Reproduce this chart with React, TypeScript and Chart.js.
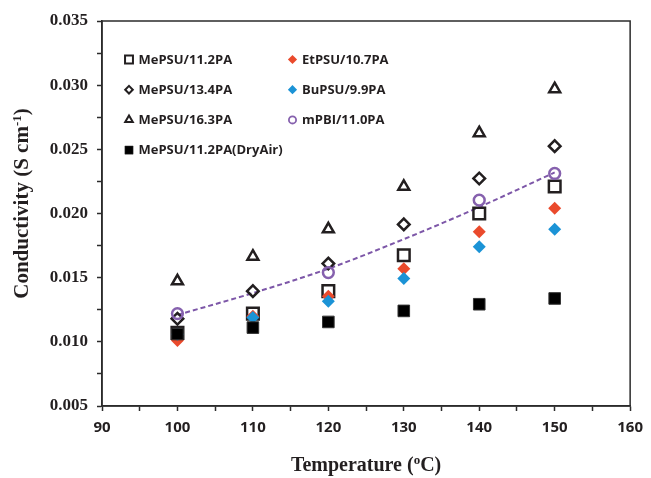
import React, { useEffect, useRef } from 'react';
import { Chart, registerables } from 'chart.js';

Chart.register(...registerables);

// ---- data ----
const temperatures = [100, 110, 120, 130, 140, 150];
const mepsu112 = [0.0107, 0.0122, 0.01395, 0.01675, 0.0200, 0.0221];
const etpsu107 = [0.0101, 0.0120, 0.01355, 0.0157, 0.01857, 0.0204];
const mepsu134 = [0.0118, 0.01395, 0.0161, 0.01915, 0.02273, 0.02525];
const bupsu99 = [0.0106, 0.0119, 0.01317, 0.01494, 0.0174, 0.01878];
const mepsu163 = [0.01473, 0.01665, 0.01878, 0.0221, 0.02627, 0.0297];
const mpbi110 = [0.0122, null, 0.0154, null, 0.02104, 0.02312];
const mepsu112Dry = [0.01061, 0.01111, 0.01155, 0.01241, 0.01293, 0.01338];
const mpbiTrend = [0.0121, 0.0138, 0.0157, 0.0180, 0.0205, 0.0232];

const seriesLabels = [
  'MePSU/11.2PA',
  'EtPSU/10.7PA',
  'MePSU/13.4PA',
  'BuPSU/9.9PA',
  'MePSU/16.3PA',
  'mPBI/11.0PA',
  'MePSU/11.2PA(DryAir)',
];
const xRange = [90, 160];
const yRange = [0.005, 0.035];
const xTitle = ['Temperature (', 'o', 'C)'];
const yTitle = ['Conductivity (S cm', '-1', ')'];

const DARK = '#231f20';
const RED = '#ea4a2c';
const BLUE = '#1b93d6';
const PURPLE = '#8661ae';
const TREND = '#7d57a8';

const toPoints = (vals: (number | null)[]) =>
  temperatures.map((t, i) => ({ x: t, y: vals[i] }));

function drawMarker(ctx: CanvasRenderingContext2D, style: string, x: number, y: number, r: number, fill: string, stroke: string, lw: number) {
  ctx.beginPath();
  if (style === 'rect') {
    const s = Math.SQRT1_2 * r;
    ctx.rect(x - s, y - s, 2 * s, 2 * s);
  } else if (style === 'rectRot') {
    ctx.moveTo(x, y - r);
    ctx.lineTo(x + r, y);
    ctx.lineTo(x, y + r);
    ctx.lineTo(x - r, y);
    ctx.closePath();
  } else if (style === 'triangle') {
    for (let k = 0; k < 3; k++) {
      const a = (k * 2 * Math.PI) / 3;
      const px = x + Math.sin(a) * r;
      const py = y - Math.cos(a) * r;
      if (k === 0) ctx.moveTo(px, py); else ctx.lineTo(px, py);
    }
    ctx.closePath();
  } else {
    ctx.arc(x, y, r, 0, Math.PI * 2);
  }
  if (fill && fill !== 'transparent') {
    ctx.fillStyle = fill;
    ctx.fill();
  }
  if (lw > 0) {
    ctx.lineWidth = lw;
    ctx.strokeStyle = stroke;
    ctx.stroke();
  }
}

const framePlugin = {
  id: 'frameAndText',
  afterDraw(chart: any) {
    const { ctx, chartArea } = chart;
    ctx.save();
    ctx.strokeStyle = '#2b2b2b';
    ctx.lineWidth = 1.5;
    ctx.strokeRect(chartArea.left, chartArea.top, chartArea.right - chartArea.left, chartArea.bottom - chartArea.top);

    // legend inside the plot, two columns, row-major by dataset order
    const sets = chart.data.datasets.filter((d: any) => d.legendMarker);
    ctx.font = 'bold 13px "Open Sans", sans-serif';
    ctx.textBaseline = 'middle';
    ctx.textAlign = 'left';
    sets.forEach((ds: any, i: number) => {
      const col = i % 2;
      const row = Math.floor(i / 2);
      const mx = col === 0 ? 129 : 292.5;
      const my = 59.5 + row * 30.2;
      const m = ds.legendMarker;
      drawMarker(ctx, ds.pointStyle, mx, my, m.r, ds.pointBackgroundColor, ds.pointBorderColor, m.lw);
      ctx.fillStyle = DARK;
      ctx.fillText(ds.label, mx + 9.5, my + 0.5);
    });

    // axis titles with superscripts
    const serifBig = (s: number) => `bold ${s}px "Liberation Serif", "Times New Roman", serif`;
    ctx.fillStyle = DARK;
    ctx.textBaseline = 'alphabetic';
    // x title
    {
      const main = 20, sup = 13;
      ctx.font = serifBig(main);
      const w1 = ctx.measureText(xTitle[0]).width;
      const w3 = ctx.measureText(xTitle[2]).width;
      ctx.font = serifBig(sup);
      const w2 = ctx.measureText(xTitle[1]).width;
      const cx = (chartArea.left + chartArea.right) / 2;
      let x = cx - (w1 + w2 + w3) / 2;
      const by = 471;
      ctx.font = serifBig(main);
      ctx.fillText(xTitle[0], x, by); x += w1;
      ctx.font = serifBig(sup);
      ctx.fillText(xTitle[1], x, by - 7); x += w2;
      ctx.font = serifBig(main);
      ctx.fillText(xTitle[2], x, by);
    }
    // y title (rotated)
    {
      const main = 21, sup = 13;
      ctx.save();
      ctx.translate(27.5, 203.5);
      ctx.rotate(-Math.PI / 2);
      ctx.font = serifBig(main);
      const w1 = ctx.measureText(yTitle[0]).width;
      const w3 = ctx.measureText(yTitle[2]).width;
      ctx.font = serifBig(sup);
      const w2 = ctx.measureText(yTitle[1]).width;
      let x = -(w1 + w2 + w3) / 2;
      ctx.font = serifBig(main);
      ctx.fillText(yTitle[0], x, 0); x += w1;
      ctx.font = serifBig(sup);
      ctx.fillText(yTitle[1], x, -7); x += w2;
      ctx.font = serifBig(main);
      ctx.fillText(yTitle[2], x, 0);
      ctx.restore();
    }
    ctx.restore();
  },
};

export default function App() {
  const ref = useRef<HTMLCanvasElement>(null);

  useEffect(() => {
    if (!ref.current) return;
    const scatter = (label: string, vals: (number | null)[], style: string, r: number, fill: string, stroke: string, lw: number, order: number, legend: { r: number; lw: number }) => ({
      type: 'scatter' as const,
      label,
      data: toPoints(vals),
      pointStyle: style,
      pointRadius: r,
      pointHoverRadius: r,
      pointBackgroundColor: fill,
      pointBorderColor: stroke,
      pointBorderWidth: lw,
      backgroundColor: fill,
      borderColor: stroke,
      showLine: false,
      order,
      legendMarker: legend,
    });

    const datasets: any[] = [
      scatter(seriesLabels[0], mepsu112, 'rect', 8.2, 'transparent', DARK, 2.5, 6, { r: 5.6, lw: 2 }),
      scatter(seriesLabels[1], etpsu107, 'rectRot', 6.5, RED, RED, 0, 3, { r: 4.6, lw: 0 }),
      scatter(seriesLabels[2], mepsu134, 'rectRot', 5.8, 'transparent', DARK, 2.5, 5, { r: 3.8, lw: 2 }),
      scatter(seriesLabels[3], bupsu99, 'rectRot', 6.5, BLUE, BLUE, 0, 2, { r: 4.6, lw: 0 }),
      scatter(seriesLabels[4], mepsu163, 'triangle', 6.3, 'transparent', DARK, 2.5, 7, { r: 4.4, lw: 2 }),
      scatter(seriesLabels[5], mpbi110, 'circle', 5.4, 'transparent', PURPLE, 2.5, 4, { r: 3.6, lw: 1.8 }),
      scatter(seriesLabels[6], mepsu112Dry, 'rect', 8.2, '#000000', '#333333', 1, 1, { r: 5.8, lw: 0.5 }),
      {
        type: 'line' as const,
        label: 'trend',
        data: toPoints(mpbiTrend),
        borderColor: TREND,
        borderWidth: 2,
        borderDash: [5, 3],
        pointRadius: 0,
        fill: false,
        cubicInterpolationMode: 'monotone',
        order: 10,
      },
    ];

    const chart = new Chart(ref.current, {
      type: 'scatter',
      data: { datasets },
      plugins: [framePlugin],
      options: {
        responsive: false,
        animation: false,
        devicePixelRatio: 1,
        layout: { padding: { top: 21, right: 15, left: 0, bottom: 0 } },
        plugins: {
          legend: { display: false },
          tooltip: { enabled: false },
          title: { display: false },
        },
        scales: {
          x: {
            type: 'linear',
            min: xRange[0],
            max: xRange[1],
            afterFit: (s: any) => { s.height = 72; },
            afterBuildTicks: (s: any) => {
              const t = [];
              for (let v = xRange[0]; v <= xRange[1]; v += 5) t.push({ value: v });
              s.ticks = t;
            },
            ticks: {
              autoSkip: false,
              maxRotation: 0,
              padding: 8,
              color: DARK,
              font: { family: '"Open Sans", sans-serif', weight: 'bold', size: 15 },
              callback: (v: any) => (Number(v) % 10 === 0 ? String(v) : ''),
            },
            grid: { drawOnChartArea: false, drawTicks: true, tickLength: 5, tickColor: '#2b2b2b', tickWidth: 1.5 },
            border: { display: true, color: '#2b2b2b', width: 1.5 },
            title: { display: false },
          },
          y: {
            type: 'linear',
            min: yRange[0],
            max: yRange[1],
            afterFit: (s: any) => { s.width = 102; },
            afterBuildTicks: (s: any) => {
              const t = [];
              for (let k = 0; k <= 12; k++) t.push({ value: yRange[0] + k * 0.0025 });
              s.ticks = t;
            },
            ticks: {
              autoSkip: false,
              padding: 9,
              color: DARK,
              font: { family: '"Liberation Serif", "Times New Roman", serif', weight: 'bold', size: 17 },
              callback: (v: any) => {
                const n = Number(v) * 200;
                return Math.abs(n - Math.round(n)) < 1e-6 ? Number(v).toFixed(3) : '';
              },
            },
            grid: { drawOnChartArea: false, drawTicks: true, tickLength: 5, tickColor: '#2b2b2b', tickWidth: 1.5 },
            border: { display: true, color: '#2b2b2b', width: 1.5 },
            title: { display: false },
          },
        },
      } as any,
    });
    return () => chart.destroy();
  }, []);

  return (
    <div style={{ position: 'fixed', left: 0, top: 0, width: 651, height: 478, background: '#ffffff' }}>
      <canvas ref={ref} width={651} height={478} style={{ width: 651, height: 478, display: 'block' }} />
    </div>
  );
}
